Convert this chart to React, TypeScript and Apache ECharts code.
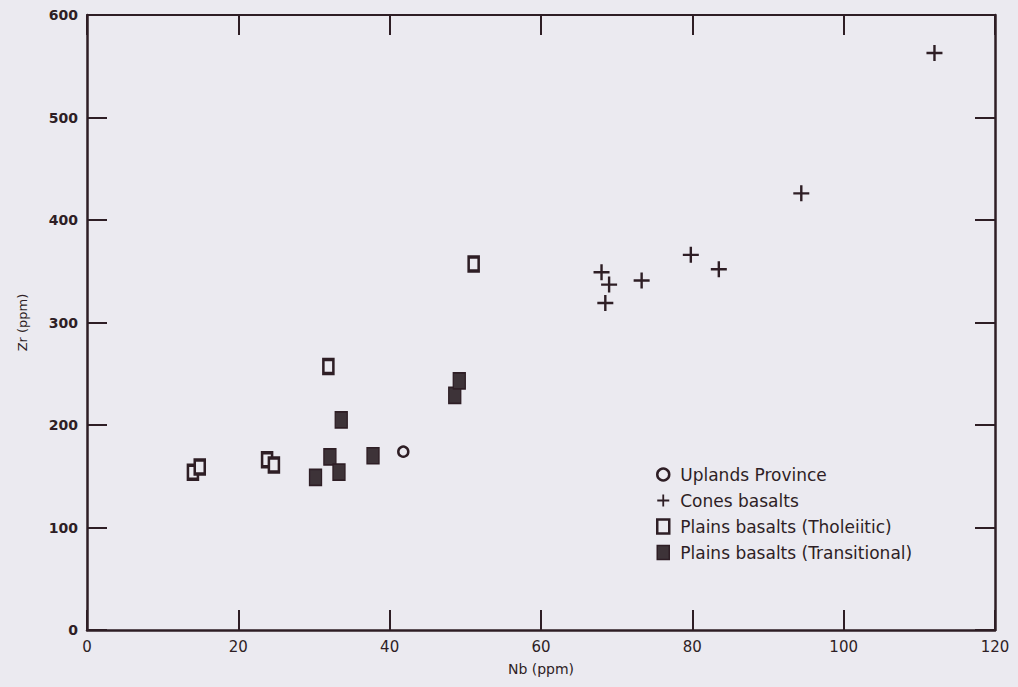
import React, { useEffect, useRef } from "react";
import * as echarts from "echarts";

const upLands: [number, number][] = [[41.8, 174]];
const conesBasalts: [number, number][] = [
  [68.0, 349], [69.0, 337], [68.5, 319], [73.3, 341], [79.8, 366],
  [83.5, 352], [94.4, 426], [112.0, 563],
];
const plainsTholeiitic: [number, number][] = [
  [14.0, 154], [14.9, 159], [23.8, 166], [24.7, 161], [31.9, 257], [51.1, 357],
];
const plainsTransitional: [number, number][] = [
  [33.6, 205], [32.1, 169], [30.2, 149], [33.3, 154], [37.8, 170], [48.6, 229], [49.2, 243],
];
const xTicks = [0, 20, 40, 60, 80, 100, 120];
const yTicks = [0, 100, 200, 300, 400, 500, 600];
const seriesNames = [
  "Uplands Province",
  "Cones basalts",
  "Plains basalts (Tholeiitic)",
  "Plains basalts (Transitional)",
];

const INK = "#2e1e25";
const BG = "#ebeaf0";
const FONT = "DejaVu Sans";
const CROSS = "path://M8.5,0H11.5V8.5H20V11.5H11.5V20H8.5V11.5H0V8.5H8.5Z";

export default function App() {
  const ref = useRef<HTMLDivElement>(null);
  useEffect(() => {
    if (!ref.current) return;
    const chart = echarts.init(ref.current, undefined, { renderer: "svg" });
    const tick = { show: true, inside: true, length: 20, lineStyle: { color: INK, width: 2 } };
    chart.setOption({
      animation: false,
      backgroundColor: BG,
      grid: { left: 87, right: 23, top: 15, bottom: 57 },
      legend: {
        orient: "vertical",
        left: 651,
        top: 461,
        itemWidth: 12,
        itemHeight: 14,
        itemGap: 9,
        textStyle: { fontFamily: FONT, fontSize: 17, color: INK, padding: [0, 0, 0, 6] },
        data: [
          { name: seriesNames[0], icon: "circle", itemStyle: { color: BG, borderColor: INK, borderWidth: 2.5 } },
          { name: seriesNames[1], icon: CROSS, itemStyle: { color: INK, borderWidth: 0 } },
          { name: seriesNames[2], icon: "rect", itemStyle: { color: BG, borderColor: INK, borderWidth: 2.5 } },
          { name: seriesNames[3], icon: "rect", itemStyle: { color: "#3d3338", borderColor: INK, borderWidth: 1.5 } },
        ],
      },
      xAxis: [
        {
          type: "value", min: 0, max: 120, interval: 20, position: "bottom",
          name: "Nb (ppm)", nameLocation: "middle", nameGap: 32,
          nameTextStyle: { fontFamily: FONT, fontSize: 14, color: INK },
          axisLine: { show: true, onZero: false, lineStyle: { color: INK, width: 2.5 } },
          axisTick: tick,
          axisLabel: {
            fontFamily: FONT, fontSize: 15, color: INK, margin: 9,
            formatter: (v: number) => (xTicks.includes(v) ? String(v) : ""),
          },
          splitLine: { show: false },
        },
        {
          type: "value", min: 0, max: 120, interval: 20, position: "top",
          axisLine: { show: true, onZero: false, lineStyle: { color: INK, width: 2 } },
          axisTick: tick,
          axisLabel: { show: false },
          splitLine: { show: false },
        },
      ],
      yAxis: [
        {
          type: "value", min: 0, max: 600, interval: 100, position: "left",
          name: "Zr (ppm)", nameLocation: "middle", nameGap: 58, nameRotate: 90,
          nameTextStyle: { fontFamily: FONT, fontSize: 13, color: INK },
          axisLine: { show: true, onZero: false, lineStyle: { color: INK, width: 2.5 } },
          axisTick: tick,
          axisLabel: {
            fontFamily: FONT, fontSize: 14, fontWeight: "bold", color: INK, margin: 9,
            formatter: (v: number) => (yTicks.includes(v) ? String(v) : ""),
          },
          splitLine: { show: false },
        },
        {
          type: "value", min: 0, max: 600, interval: 100, position: "right",
          axisLine: { show: true, onZero: false, lineStyle: { color: INK, width: 2.5 } },
          axisTick: tick,
          axisLabel: { show: false },
          splitLine: { show: false },
        },
      ],
      series: [
        {
          name: seriesNames[0], type: "scatter", data: upLands, symbol: "circle", symbolSize: 10,
          itemStyle: { color: BG, borderColor: INK, borderWidth: 2.5, opacity: 1 },
        },
        {
          name: seriesNames[1], type: "scatter", data: conesBasalts, symbol: CROSS, symbolSize: 16,
          itemStyle: { color: INK, opacity: 1 },
        },
        {
          name: seriesNames[2], type: "scatter", data: plainsTholeiitic, symbol: "rect", symbolSize: [10, 14],
          itemStyle: { color: BG, borderColor: INK, borderWidth: 3, opacity: 1 },
        },
        {
          name: seriesNames[3], type: "scatter", data: plainsTransitional, symbol: "rect", symbolSize: [12, 16],
          itemStyle: { color: "#3d3338", borderColor: INK, borderWidth: 1.5, opacity: 1 },
        },
      ],
    });
    return () => chart.dispose();
  }, []);
  return (
    <div
      ref={ref}
      style={{ position: "fixed", left: 0, top: 0, width: 1018, height: 687 }}
    />
  );
}
